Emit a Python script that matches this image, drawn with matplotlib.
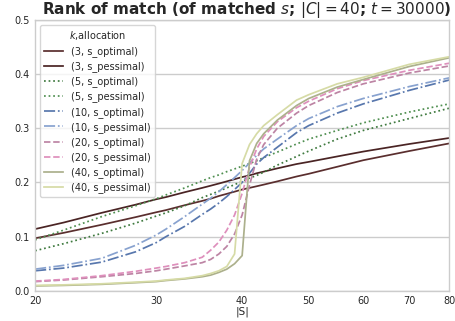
import matplotlib
matplotlib.use("Agg")
import matplotlib.pyplot as plt

GRID = "#cccccc"
TEXT = "#262626"

plt.rcParams.update({
    "font.family": "DejaVu Sans",
    "axes.edgecolor": GRID,
    "axes.linewidth": 1.0,
    "xtick.color": TEXT,
    "ytick.color": TEXT,
    "text.color": TEXT,
    "axes.labelcolor": TEXT,
})

S = [20, 22, 25, 28, 30, 31, 33, 35, 36, 37, 38, 39, 40, 41, 42, 43, 45, 48, 50, 55, 60, 70, 80]

k3_opt = [.097, .107, .122, .136, .145, .149, .158, .166, .170, .175, .179, .183, .187, .190, .193, .196, .202, .211, .216, .229, .241, .258, .272]
k3_pess = [.114, .126, .144, .159, .169, .173, .182, .190, .194, .198, .202, .206, .210, .213, .217, .220, .226, .234, .238, .248, .257, .271, .282]
k5_opt = [.074, .087, .106, .125, .138, .144, .157, .172, .178, .184, .190, .196, .202, .208, .213, .219, .232, .248, .258, .280, .296, .318, .337]
k5_pess = [.094, .112, .137, .157, .170, .177, .190, .203, .209, .214, .220, .225, .230, .235, .240, .246, .256, .271, .280, .296, .310, .330, .345]
k10_opt = [.037, .042, .053, .072, .089, .100, .119, .141, .151, .162, .174, .187, .200, .217, .234, .246, .265, .292, .305, .328, .345, .370, .389]
k10_pess = [.040, .047, .060, .084, .103, .114, .137, .160, .171, .183, .196, .209, .222, .236, .250, .262, .280, .305, .318, .340, .355, .377, .393]
k20_opt = [.017, .020, .026, .032, .037, .040, .046, .052, .058, .068, .082, .105, .140, .195, .243, .270, .300, .328, .342, .366, .382, .402, .415]
k20_pess = [.018, .021, .028, .036, .042, .045, .052, .062, .075, .090, .112, .140, .180, .228, .262, .285, .312, .338, .350, .373, .388, .407, .420]
k40_opt = [.009, .010, .012, .015, .017, .019, .022, .026, .029, .034, .040, .050, .065, .240, .272, .290, .315, .342, .355, .376, .390, .414, .430]
k40_pess = [.010, .011, .013, .016, .018, .020, .023, .028, .032, .037, .045, .068, .235, .270, .290, .305, .325, .352, .362, .382, .394, .418, .432]

series = [
    ("(3, s_optimal)", k3_opt, "#5a2e2e", "-"),
    ("(3, s_pessimal)", k3_pess, "#4a2424", "-"),
    ("(5, s_optimal)", k5_opt, "#3f7a3f", ":"),
    ("(5, s_pessimal)", k5_pess, "#4f8f50", ":"),
    ("(10, s_optimal)", k10_opt, "#5877ad", "-."),
    ("(10, s_pessimal)", k10_pess, "#88a2cf", "-."),
    ("(20, s_optimal)", k20_opt, "#bd84a4", "--"),
    ("(20, s_pessimal)", k20_pess, "#de8fbc", "--"),
    ("(40, s_optimal)", k40_opt, "#acb08c", "-"),
    ("(40, s_pessimal)", k40_pess, "#d6dba6", "-"),
]

XTICKS = [20, 30, 40, 50, 60, 70, 80]

fig = plt.figure(figsize=(4.56, 3.21), dpi=100, facecolor="white")
ax = fig.add_axes([0.077, 0.094, 0.908, 0.844])

for label, vals, color, ls in series:
    ax.plot(S, vals, color=color, linestyle=ls, linewidth=1.25, label=label)

ax.set_xscale("log")
ax.set_xlim(20, 80)
ax.set_ylim(0, 0.5)
ax.set_xticks(XTICKS)
ax.set_xticklabels([str(t) for t in XTICKS])
ax.minorticks_off()
ax.set_yticks([0.0, 0.1, 0.2, 0.3, 0.4, 0.5])
ax.tick_params(length=0, labelsize=7, pad=4)
ax.grid(axis="y", color=GRID, linewidth=1.0)
ax.set_axisbelow(True)
ax.set_xlabel("|S|", fontsize=7.5, labelpad=0)
ax.set_title("Rank of match (of matched $s$; $|C| = 40$; $t = 30000$)",
             fontsize=11, fontweight="bold", pad=4, x=0.51)

leg = ax.legend(title="$k$,allocation", loc="upper left", fontsize=7,
                title_fontsize=7, labelspacing=0.44, frameon=True)
leg.get_frame().set_edgecolor(GRID)

fig.savefig("out.png", dpi=100, facecolor="white")
